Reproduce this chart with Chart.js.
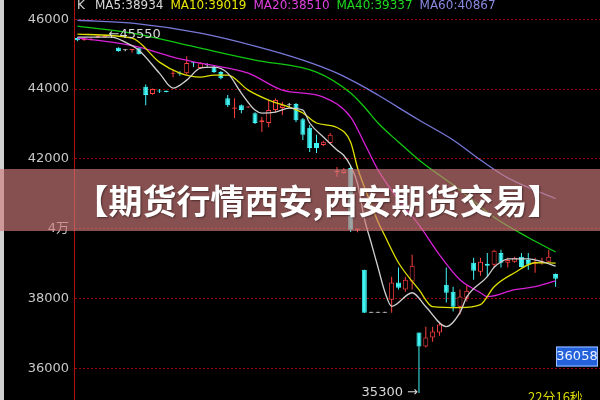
<!DOCTYPE html>
<html lang="zh-CN">
<head>
<meta charset="UTF-8">
<title>期货行情西安</title>
<style>
    html, body { margin: 0; padding: 0; background: #000; }
    #wrap { width: 600px; height: 400px; }
</style>
</head>
<body>
<div id="wrap"><canvas id="kchart" width="600" height="400"></canvas></div>

<script src="https://cdn.jsdelivr.net/npm/chart.js@4"></script>
<script>
// daily candles
const opens  = [45460,45400,45410,45480,45490,45520,45180,45110,45120,45170,
                44070,43860,43960,43950,44440,44470,44450,44770,44600,44690,
                44630,44490,43740,43440,43540,43470,43310,43060,43030,43400,
                43460,43540,43570,43140,42890,42460,42400,42460,41620,41600,
                41740,39950,38830,37600,37600,37600,37970,38460,38260,38490,
                37030,36630,36890,37030,38400,38200,37770,38030,39030,38770,
                39000,38970,39310,39030,39060,39200,39110,39000,39040,39060,
                38710];
const highs  = [45490,45490,45480,45540,45540,45550,45200,45140,45140,45180,
                44130,44020,44000,43960,44540,44510,44940,44770,44770,44740,
                44660,44520,43830,43740,43560,43510,43340,43200,43690,43740,
                43630,43600,43600,43170,42970,42690,42520,42740,41770,41740,
                41800,40010,38830,37600,37600,37600,38630,38890,38630,39260,
                37030,37200,37200,37310,38890,38340,38260,38400,39170,39170,
                39310,39400,39400,39170,39200,39310,39310,39170,39170,39400,
                38720];
const lows   = [45370,45380,45390,45460,45470,45460,45070,45080,45040,44990,
                43540,43840,43890,43910,44340,44380,44420,44630,44580,44640,
                44460,44280,43490,43170,43310,43460,43000,42770,42910,43340,
                43260,43480,43060,42540,42200,42170,42370,42430,41490,41570,
                39910,39900,37600,37600,37600,37600,37600,38260,38200,38260,
                35300,36600,36770,36940,37890,37630,37540,37920,38540,38660,
                38630,38890,38890,38890,39030,38890,38830,38740,38970,39050,
                38340];
const closes = [45400,45450,45440,45530,45530,45520,45090,45110,45140,45000,
                43830,44000,43930,43920,44470,44440,44750,44740,44740,44690,
                44490,44310,43540,43470,43400,43500,43030,43110,43400,43690,
                43540,43540,43110,42690,42310,42310,42490,42690,41660,41690,
                39970,39990,37600,37600,37600,37600,38460,38310,38540,38940,
                36630,36890,37060,37260,38170,37770,38060,38230,38800,39060,
                38940,39370,39030,39110,39170,38910,38970,39060,39070,39200,
                38570];

// moving averages as [candle index, value]
const ma5  = [[0,45486],[5,45486],[7,45343],[9,45114],[12,44457],[14,44029],[16,44257],[18,44600],
              [20,44629],[22,44457],[24,43886],[26,43400],[27,43314],[29,43343],[31,43457],[33,43400],
              [34,43029],[36,42629],[38,42257],[39,42100],[40,41800],[41,41300],[42,40300],[43,39600],
              [44,38900],[45,38200],[46,37780],[49,38170],[51,37770],[54,37200],[56,37600],[57,38050],
              [60,38630],[61,38900],[62,39050],[63,39140],[66,39140],[68,39060],[70,38934]];
const ma10 = [[0,45571],[8,45457],[12,44772],[15,44457],[18,44343],[20,44400],[22,44400],[25,43971],
              [28,43686],[31,43486],[33,43314],[35,43029],[38,42900],[40,42480],[41,41750],[42,41200],
              [43,40700],[44,40200],[45,39800],[47,39029],[50,38257],[52,37771],[56,37743],[59,37829],
              [61,38343],[64,38743],[67,39029],[70,39019]];
const ma20 = [[0,45457],[5,45343],[9,45200],[14,44914],[18,44743],[25,44457],[30,43971],[36,43771],
              [40,43200],[42,42457],[44,41686],[47,40829],[50,40114],[53,39257],[56,38543],[59,38171],
              [60,38057],[64,38257],[67,38343],[70,38510]];
const ma40 = [[0,45800],[8,45600],[18,45171],[26,44829],[35,44486],[40,43886],[42,43486],[44,43029],
              [47,42486],[50,41971],[56,41110],[61,40330],[66,39750],[70,39337]];
const ma60 = [[0,45970],[8,45886],[18,45600],[26,45230],[33,44829],[38,44457],[42,44057],[44,43829],
              [50,43114],[55,42543],[59,41971],[63,41457],[70,40867]];

const maNames  = ['MA5', 'MA10', 'MA20', 'MA40', 'MA60'];
const maSeries = [ma5, ma10, ma20, ma40, ma60];
const maColors = ['#d0d0d0', '#e0e000', '#d820d8', '#10c810', '#7878d8'];
const maText   = ['#d8d8d8', '#e8e800', '#e040e0', '#20d820', '#8888e0'];

const tickValues = [36000, 38000, 40000, 42000, 44000, 46000];
const tickLabels = ['36000', '38000', '4万', '42000', '44000', '46000'];

const lastQuote  = 36058;
const timerText  = '22分16秒';
const bannerText = '【期货行情西安,西安期货交易】';

const RED = '#ff4040', CYAN = '#40f4f4', WHITE = '#e0e0e0';

function candleColor(i) {
    if (closes[i] > opens[i]) return RED;
    if (closes[i] < opens[i]) return CYAN;
    return WHITE;
}

const idx = opens.map((_, i) => i);

// overlay texts, drawn after the chart
const overlay = {
    id: 'overlay',
    beforeDraw(chart) {
        const ctx = chart.ctx;
        ctx.save();
        ctx.fillStyle = '#000';
        ctx.fillRect(0, 0, chart.width, chart.height);
        ctx.fillStyle = '#d0d0d0';
        ctx.fillRect(0, 0, 4, chart.height);
        ctx.restore();
    },
    afterDraw(chart) {
        const ctx = chart.ctx;
        const xs = chart.scales.x, ys = chart.scales.y;
        ctx.save();

        // header
        ctx.font = '12px "DejaVu Sans"';
        ctx.textBaseline = 'alphabetic';
        ctx.textAlign = 'left';
        let x = 77;
        ctx.fillStyle = '#d8d8d8';
        ctx.fillText('K', x, 9);
        x = 95;
        maNames.forEach((n, k) => {
            const s = maSeries[k];
            const t = n + ':' + s[s.length - 1][1];
            ctx.fillStyle = maText[k];
            ctx.fillText(t, x, 9);
            x += ctx.measureText(t).width + 7;
        });

        // highest / lowest marks
        ctx.font = '13px "DejaVu Sans"';
        ctx.textBaseline = 'middle';
        ctx.fillStyle = '#d8d8d8';
        let iMax = 0, iMin = 0;
        idx.forEach(i => {
            if (highs[i] > highs[iMax]) iMax = i;
            if (lows[i] < lows[iMin]) iMin = i;
        });
        ctx.textAlign = 'left';
        ctx.fillText('←' + highs[iMax], xs.getPixelForValue(iMax) - 3, ys.getPixelForValue(highs[iMax]));
        ctx.textAlign = 'right';
        ctx.fillText(lows[iMin] + ' →', xs.getPixelForValue(iMin) - 1, ys.getPixelForValue(lows[iMin]));

        // last quote box
        const yq = ys.getPixelForValue(lastQuote);
        ctx.fillStyle = '#2462dc';
        ctx.fillRect(556, yq - 20, 42, 20);
        ctx.strokeStyle = '#9cc0ff';
        ctx.lineWidth = 1;
        ctx.strokeRect(556.5, yq - 19.5, 41, 19);
        ctx.fillStyle = '#eef4ff';
        ctx.textAlign = 'center';
        ctx.font = '13px "DejaVu Sans"';
        ctx.fillText(String(lastQuote), 577, yq - 9.5);

        // timer
        ctx.fillStyle = '#d8d800';
        ctx.textAlign = 'left';
        ctx.textBaseline = 'top';
        ctx.font = '13px "Noto Sans CJK SC"';
        ctx.fillText(timerText, 528, 391);

        // banner
        ctx.fillStyle = 'rgba(208, 123, 123, 0.65)';
        ctx.fillRect(0, 169, chart.width, 62);
        ctx.font = 'bold 34px "Noto Sans CJK SC"';
        ctx.textAlign = 'center';
        ctx.textBaseline = 'middle';
        ctx.shadowColor = 'rgba(0,0,0,0.45)';
        ctx.shadowBlur = 2;
        ctx.shadowOffsetX = 1;
        ctx.shadowOffsetY = 1;
        ctx.fillStyle = '#ffffff';
        ctx.fillText(bannerText, 318, 201);
        ctx.restore();
    }
};

new Chart(document.getElementById('kchart'), {
    type: 'bar',
    data: {
        datasets: [
            {
                label: 'wick',
                data: idx.map(i => ({ x: i, y: [lows[i], highs[i]] })),
                backgroundColor: idx.map(candleColor),
                borderWidth: 0,
                barThickness: 1,
                minBarLength: 1,
                grouped: false,
                inflateAmount: 0,
                order: 2
            },
            {
                label: 'body',
                data: idx.map(i => ({ x: i, y: [opens[i], closes[i]] })),
                backgroundColor: idx.map(i => closes[i] > opens[i] ? '#000000' : candleColor(i)),
                borderColor: idx.map(candleColor),
                borderWidth: 1,
                borderSkipped: false,
                barThickness: 5,
                minBarLength: 1,
                grouped: false,
                inflateAmount: 0,
                order: 1
            },
            ...maSeries.map((s, k) => ({
                type: 'line',
                label: maNames[k],
                data: s.map(p => ({ x: p[0], y: p[1] })),
                borderColor: maColors[k],
                borderWidth: 1.3,
                pointRadius: 0,
                cubicInterpolationMode: 'monotone',
                fill: false,
                order: 0
            }))
        ]
    },
    options: {
        responsive: false,
        animation: false,
        events: [],
        layout: { padding: 0 },
        plugins: { legend: { display: false }, tooltip: { enabled: false } },
        scales: {
            x: { type: 'linear', min: -0.5, max: 76.5, offset: false, display: false },
            y: {
                type: 'linear',
                min: 35100,
                max: 46550,
                position: 'left',
                afterBuildTicks: s => { s.ticks = tickValues.map(v => ({ value: v })); },
                afterFit: s => { s.width = 74; s.paddingTop = 0; s.paddingBottom = 0; },
                ticks: {
                    color: '#c8c8c8',
                    font: { family: 'DejaVu Sans', size: 13 },
                    padding: 5,
                    callback: v => tickLabels[tickValues.indexOf(v)]
                },
                grid: { color: '#a00000', lineWidth: 1, drawTicks: false },
                border: { display: true, color: '#b01010', width: 1, dash: [2, 2] }
            }
        }
    },
    plugins: [overlay]
});
</script>
</body>
</html>
